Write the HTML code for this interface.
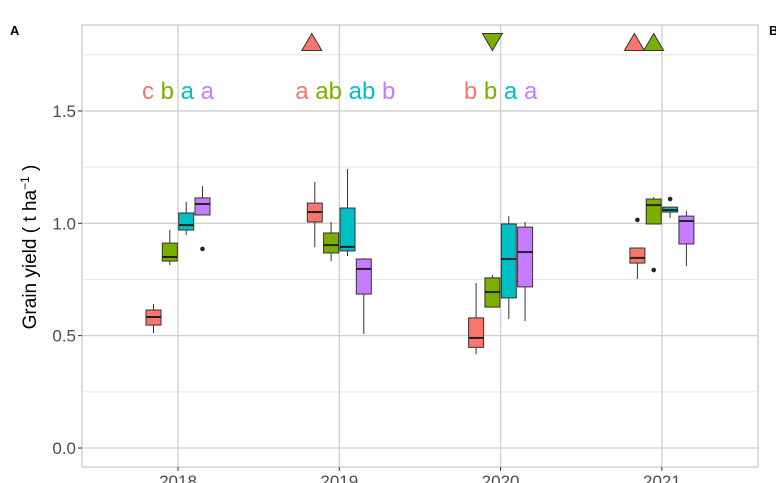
<!DOCTYPE html>
<html><head><meta charset="utf-8"><style>
body{margin:0;background:#fff;}
svg{display:block;font-family:"Liberation Sans",sans-serif;}
</style></head><body>
<svg id="c" width="776" height="483">
<text x="10" y="35" font-size="13" font-weight="bold">A</text>
<text x="769" y="35" font-size="13" font-weight="bold">B</text>
<text transform="translate(36,247) rotate(-90)" text-anchor="middle" font-size="19">Grain yield ( t  ha<tspan dy="-7" font-size="12">−1</tspan><tspan dy="7"> )</tspan></text>
</svg>
<script>
const years=["2018","2019","2020","2021"];
const colors=["#F8766D","#7CAE00","#00BFC4","#C77CFF"];
// per box: [lo, q1, med, q3, hi]
const stats=[
 [[.512,.547,.583,.614,.641],[.814,.832,.85,.912,.97],[.948,.970,.992,1.046,1.095],[1.037,1.037,1.086,1.113,1.166]],
 [[.894,1.006,1.050,1.090,1.184],[.832,.868,.903,.957,1.006],[.854,.877,.895,1.068,1.242],[.507,.685,.797,.841,.845]],
 [[.418,.448,.490,.579,.734],[.627,.627,.694,.757,.770],[.574,.668,.841,.997,1.032],[.565,.717,.872,.983,1.006]],
 [[.752,.823,.846,.890,.890],[.997,.997,1.081,1.108,1.117],[1.024,1.050,1.059,1.072,1.072],[.810,.908,1.010,1.032,1.055]]
];
const outliers=[[0,3,.886],[3,0,1.015],[3,1,.792],[3,2,1.108]];
const letters=[["c","b","a","a"],["a","ab","ab","b"],["b","b","a","a"],["","","",""]];
const triangles=[[1,0,"up"],[2,1,"down"],[3,0,"up"],[3,1,"up"]];
const yTicks=[0,0.5,1.0,1.5];
const yMinor=[0.25,0.75,1.25,1.75];

const svg=document.getElementById('c');const NS="http://www.w3.org/2000/svg";
const L=82,R=758,T=25,B=467;
const y=v=>448-v*224.7;
const x=i=>178+i*161.3;
const off=[-24.5,-8.2,8.2,24.5];
function mk(t,a,p){const e=document.createElementNS(NS,t);for(const k in a)e.setAttribute(k,a[k]);(p||svg).appendChild(e);return e;}
const g=mk('g',{});


mk('rect',{x:L,y:T,width:R-L,height:B-T,fill:'#fff',stroke:'#bdbdbd','stroke-width':1},g);
yMinor.forEach(v=>{const l=mk('line',{x1:L,x2:R,y1:y(v),y2:y(v),stroke:'#e6e6e6','stroke-width':1},g);});
yTicks.forEach(v=>{const l=mk('line',{x1:L,x2:R,y1:y(v),y2:y(v),stroke:'#cfcfcf','stroke-width':1.3},g);
 mk('line',{x1:L-4,x2:L,y1:y(v),y2:y(v),stroke:'#333'},g);
 const t=mk('text',{x:L-6,y:y(v)+6,'text-anchor':'end','font-size':17,fill:'#4d4d4d'},g);t.textContent=v.toFixed(1);});
years.forEach((yr,i)=>{mk('line',{x1:x(i),x2:x(i),y1:T,y2:B,stroke:'#cfcfcf','stroke-width':1.3},g);
 mk('line',{x1:x(i),x2:x(i),y1:B,y2:B+4,stroke:'#333'},g);
 const t=mk('text',{x:x(i),y:B+20,'text-anchor':'middle','font-size':17,fill:'#4d4d4d'},g);t.textContent=yr;});
stats.forEach((grp,i)=>grp.forEach((s,j)=>{const cx=x(i)+off[j],w=15;
 const b=mk('g',{},g);
 mk('line',{x1:cx,x2:cx,y1:y(s[0]),y2:y(s[4]),stroke:'#333','stroke-width':1},b);
 mk('rect',{x:cx-w/2,y:y(s[3]),width:w,height:Math.max(1,y(s[1])-y(s[3])),fill:colors[j],stroke:'#333','stroke-width':1},b);
 mk('line',{x1:cx-w/2,x2:cx+w/2,y1:y(s[2]),y2:y(s[2]),stroke:'#222','stroke-width':2},b);
}));
letters.forEach((grp,i)=>{if(!grp.some(s=>s))return;
 const t=mk('text',{x:x(i)+(i==1?6:0),y:99,'text-anchor':'middle','font-size':24},g);
 
 
 grp.forEach((lt,j)=>{const s=mk('tspan',{fill:colors[j]},t);s.textContent=(j?' ':'')+lt;});
});
outliers.forEach(o=>{const c=mk('circle',{cx:x(o[0])+off[o[1]],cy:y(o[2]),r:2.3,fill:'#222'},g);});
triangles.forEach(t=>{const cx=x(t[0])+off[t[1]]+(t[1]==0?-3:0),cy=42,h=17,w=20;
 const pts=t[2]=="up"?`${cx-w/2},${cy+h/2} ${cx+w/2},${cy+h/2} ${cx},${cy-h/2}`:`${cx-w/2},${cy-h/2} ${cx+w/2},${cy-h/2} ${cx},${cy+h/2}`;
 const p=mk('polygon',{points:pts,fill:colors[t[1]],stroke:'#333','stroke-width':1},g);});
</script>
</body></html>
